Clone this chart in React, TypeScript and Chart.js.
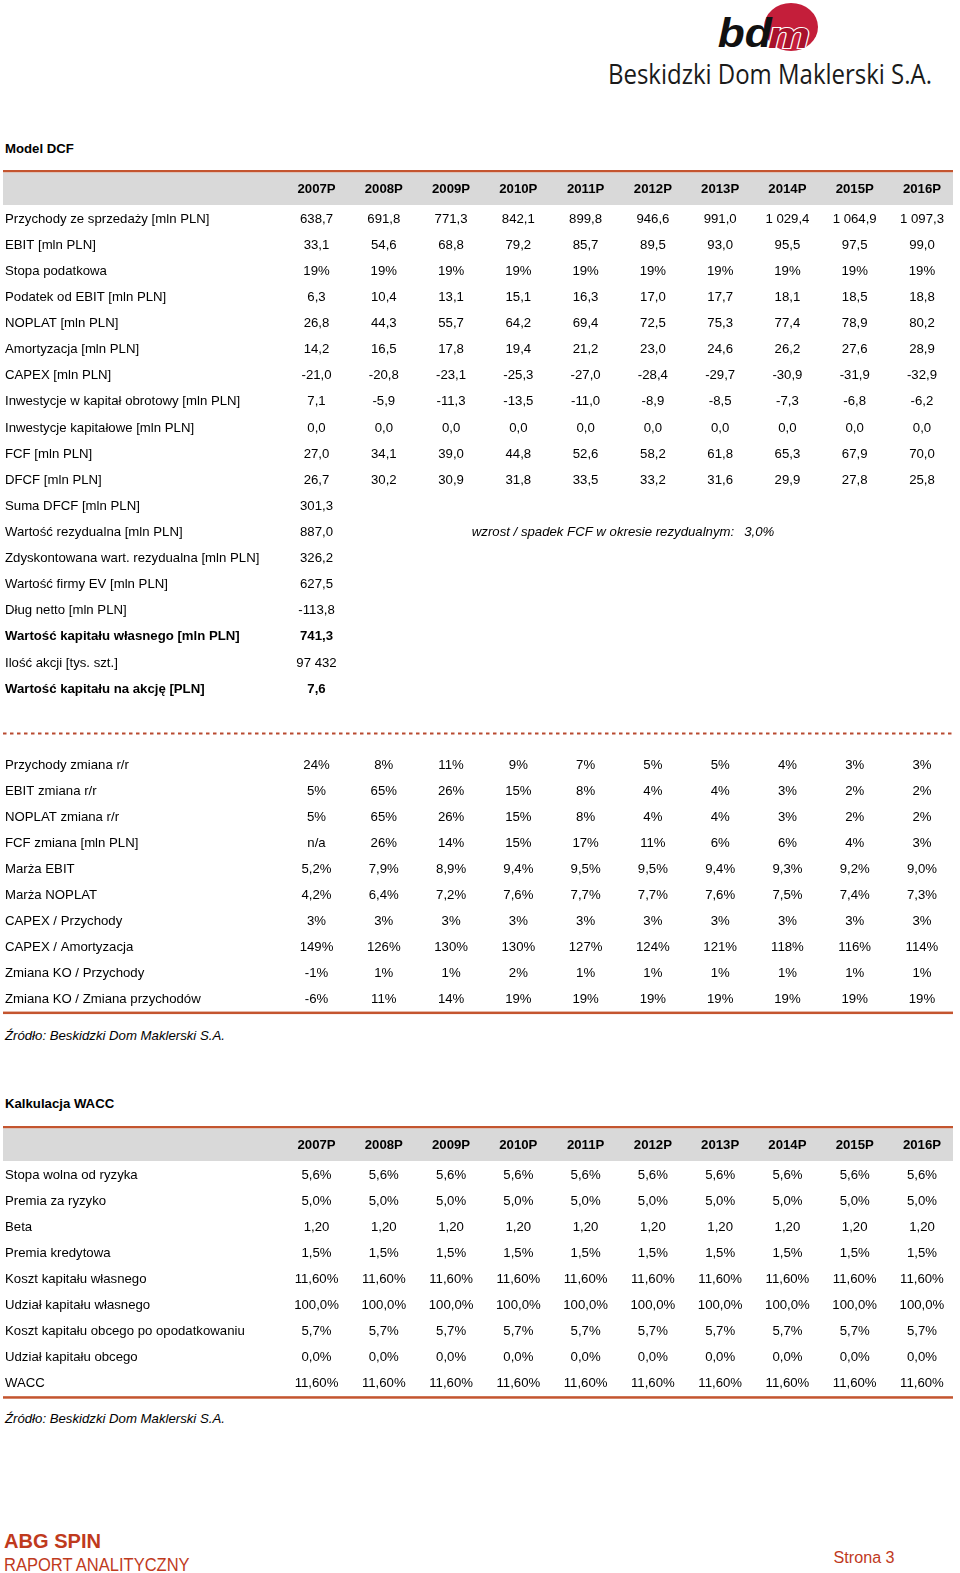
import React, { useEffect, useRef } from 'react';
import { Chart, registerables } from 'chart.js';

Chart.register(...registerables);

const FONT = "'Liberation Sans', Arial, Helvetica, sans-serif";
const FS = 13.2;
const RED = '#c4552f';
const GRAY = '#d9d9d9';
const FOOT_RED = '#bf3a1d';

// ---------- data ----------
const years = ['2007P', '2008P', '2009P', '2010P', '2011P', '2012P', '2013P', '2014P', '2015P', '2016P'];

type Cell = number | null;

// DCF model
const dcfLabels = [
  'Przychody ze sprzedaży [mln PLN]',
  'EBIT [mln PLN]',
  'Stopa podatkowa',
  'Podatek od EBIT [mln PLN]',
  'NOPLAT [mln PLN]',
  'Amortyzacja [mln PLN]',
  'CAPEX [mln PLN]',
  'Inwestycje w kapitał obrotowy [mln PLN]',
  'Inwestycje kapitałowe [mln PLN]',
  'FCF [mln PLN]',
  'DFCF [mln PLN]',
  'Suma DFCF [mln PLN]',
  'Wartość rezydualna [mln PLN]',
  'Zdyskontowana wart. rezydualna [mln PLN]',
  'Wartość firmy EV [mln PLN]',
  'Dług netto [mln PLN]',
  'Wartość kapitału własnego [mln PLN]',
  'Ilość akcji [tys. szt.]',
  'Wartość kapitału na akcję [PLN]',
];
const przychody: Cell[] = [638.7, 691.8, 771.3, 842.1, 899.8, 946.6, 991.0, 1029.4, 1064.9, 1097.3];
const ebit: Cell[] = [33.1, 54.6, 68.8, 79.2, 85.7, 89.5, 93.0, 95.5, 97.5, 99.0];
const stopaPodatkowa: Cell[] = [19, 19, 19, 19, 19, 19, 19, 19, 19, 19];
const podatekEbit: Cell[] = [6.3, 10.4, 13.1, 15.1, 16.3, 17.0, 17.7, 18.1, 18.5, 18.8];
const noplat: Cell[] = [26.8, 44.3, 55.7, 64.2, 69.4, 72.5, 75.3, 77.4, 78.9, 80.2];
const amortyzacja: Cell[] = [14.2, 16.5, 17.8, 19.4, 21.2, 23.0, 24.6, 26.2, 27.6, 28.9];
const capex: Cell[] = [-21.0, -20.8, -23.1, -25.3, -27.0, -28.4, -29.7, -30.9, -31.9, -32.9];
const invObrotowy: Cell[] = [7.1, -5.9, -11.3, -13.5, -11.0, -8.9, -8.5, -7.3, -6.8, -6.2];
const invKapitalowe: Cell[] = [0, 0, 0, 0, 0, 0, 0, 0, 0, 0];
const fcf: Cell[] = [27.0, 34.1, 39.0, 44.8, 52.6, 58.2, 61.8, 65.3, 67.9, 70.0];
const dfcf: Cell[] = [26.7, 30.2, 30.9, 31.8, 33.5, 33.2, 31.6, 29.9, 27.8, 25.8];
const sumaDfcf: Cell[] = [301.3];
const wartoscRezydualna: Cell[] = [887.0];
const zdyskontowana: Cell[] = [326.2];
const wartoscEv: Cell[] = [627.5];
const dlugNetto: Cell[] = [-113.8];
const kapitalWlasny: Cell[] = [741.3];
const iloscAkcji: Cell[] = [97432];
const naAkcje: Cell[] = [7.6];
const dcfRows = [przychody, ebit, stopaPodatkowa, podatekEbit, noplat, amortyzacja, capex, invObrotowy,
  invKapitalowe, fcf, dfcf, sumaDfcf, wartoscRezydualna, zdyskontowana, wartoscEv, dlugNetto,
  kapitalWlasny, iloscAkcji, naAkcje];
const dcfDecimals = [1, 1, 0, 1, 1, 1, 1, 1, 1, 1, 1, 1, 1, 1, 1, 1, 1, 0, 1];
const dcfPercent = [false, false, true, false, false, false, false, false, false, false, false, false, false, false, false, false, false, false, false];
const dcfBold = [16, 18];
const growthLabel = 'wzrost / spadek FCF w okresie rezydualnym:';
const growthRate = 3.0;

// ratios
const ratioLabels = [
  'Przychody zmiana r/r',
  'EBIT zmiana r/r',
  'NOPLAT zmiana r/r',
  'FCF zmiana [mln PLN]',
  'Marża EBIT',
  'Marża NOPLAT',
  'CAPEX / Przychody',
  'CAPEX / Amortyzacja',
  'Zmiana KO / Przychody',
  'Zmiana KO / Zmiana przychodów',
];
const przychodyZmiana: Cell[] = [24, 8, 11, 9, 7, 5, 5, 4, 3, 3];
const ebitZmiana: Cell[] = [5, 65, 26, 15, 8, 4, 4, 3, 2, 2];
const noplatZmiana: Cell[] = [5, 65, 26, 15, 8, 4, 4, 3, 2, 2];
const fcfZmiana: Cell[] = [null, 26, 14, 15, 17, 11, 6, 6, 4, 3];
const marzaEbit: Cell[] = [5.2, 7.9, 8.9, 9.4, 9.5, 9.5, 9.4, 9.3, 9.2, 9.0];
const marzaNoplat: Cell[] = [4.2, 6.4, 7.2, 7.6, 7.7, 7.7, 7.6, 7.5, 7.4, 7.3];
const capexPrzychody: Cell[] = [3, 3, 3, 3, 3, 3, 3, 3, 3, 3];
const capexAmortyzacja: Cell[] = [149, 126, 130, 130, 127, 124, 121, 118, 116, 114];
const koPrzychody: Cell[] = [-1, 1, 1, 2, 1, 1, 1, 1, 1, 1];
const koZmianaPrzychodow: Cell[] = [-6, 11, 14, 19, 19, 19, 19, 19, 19, 19];
const ratioRows = [przychodyZmiana, ebitZmiana, noplatZmiana, fcfZmiana, marzaEbit, marzaNoplat,
  capexPrzychody, capexAmortyzacja, koPrzychody, koZmianaPrzychodow];
const ratioDecimals = [0, 0, 0, 0, 1, 1, 0, 0, 0, 0];
const ratioPercent = [true, true, true, true, true, true, true, true, true, true];

// WACC
const waccLabels = [
  'Stopa wolna od ryzyka',
  'Premia za ryzyko',
  'Beta',
  'Premia kredytowa',
  'Koszt kapitału własnego',
  'Udział kapitału własnego',
  'Koszt kapitału obcego po opodatkowaniu',
  'Udział kapitału obcego',
  'WACC',
];
const stopaWolna: Cell[] = [5.6, 5.6, 5.6, 5.6, 5.6, 5.6, 5.6, 5.6, 5.6, 5.6];
const premiaRyzyko: Cell[] = [5.0, 5.0, 5.0, 5.0, 5.0, 5.0, 5.0, 5.0, 5.0, 5.0];
const beta: Cell[] = [1.2, 1.2, 1.2, 1.2, 1.2, 1.2, 1.2, 1.2, 1.2, 1.2];
const premiaKredytowa: Cell[] = [1.5, 1.5, 1.5, 1.5, 1.5, 1.5, 1.5, 1.5, 1.5, 1.5];
const kosztWlasny: Cell[] = [11.6, 11.6, 11.6, 11.6, 11.6, 11.6, 11.6, 11.6, 11.6, 11.6];
const udzialWlasny: Cell[] = [100, 100, 100, 100, 100, 100, 100, 100, 100, 100];
const kosztObcy: Cell[] = [5.7, 5.7, 5.7, 5.7, 5.7, 5.7, 5.7, 5.7, 5.7, 5.7];
const udzialObcy: Cell[] = [0, 0, 0, 0, 0, 0, 0, 0, 0, 0];
const wacc: Cell[] = [11.6, 11.6, 11.6, 11.6, 11.6, 11.6, 11.6, 11.6, 11.6, 11.6];
const waccRows = [stopaWolna, premiaRyzyko, beta, premiaKredytowa, kosztWlasny, udzialWlasny, kosztObcy, udzialObcy, wacc];
const waccDecimals = [1, 1, 2, 1, 2, 1, 1, 1, 2];
const waccPercent = [true, true, false, true, true, true, true, true, true];

const sourceText = 'Źródło: Beskidzki Dom Maklerski S.A.';

// ---------- helpers ----------
function fmt(v: Cell | undefined, dec: number, pct: boolean): string {
  if (v === undefined) return '';
  if (v === null) return 'n/a';
  const neg = v < 0;
  const s = Math.abs(v).toFixed(dec);
  const parts = s.split('.');
  const i = parts[0].replace(/\B(?=(\d{3})+(?!\d))/g, ' ');
  return (neg ? '-' : '') + i + (parts[1] ? ',' + parts[1] : '') + (pct ? '%' : '');
}

type TableProps = {
  top: number;
  height: number;
  padTop: number;
  padBottom: number;
  labels: string[];
  rows: Cell[][];
  decimals: number[];
  percent: boolean[];
  bold?: number[];
  header: boolean;
  dashedTop?: boolean;
  bottomRule?: boolean;
  extra?: (chart: any) => void;
};

function TableChart(p: TableProps) {
  const ref = useRef<HTMLCanvasElement | null>(null);
  useEffect(() => {
    const canvas = ref.current;
    if (!canvas) return;
    const bold = new Set(p.bold ?? []);
    const tablePlugin = {
      id: 'tableCells',
      beforeDraw(chart: any) {
        const { ctx, chartArea } = chart;
        ctx.save();
        if (p.header) {
          ctx.fillStyle = RED;
          ctx.fillRect(3, chartArea.top - 36, 950, 2.5);
          ctx.fillStyle = GRAY;
          ctx.fillRect(3, chartArea.top - 33.5, 950, 32.5);
        }
        if (p.dashedTop) {
          ctx.strokeStyle = '#b84a30';
          ctx.lineWidth = 2;
          ctx.setLineDash([3.5, 3.5]);
          ctx.beginPath();
          ctx.moveTo(3, chartArea.top - 19);
          ctx.lineTo(953, chartArea.top - 19);
          ctx.stroke();
          ctx.setLineDash([]);
        }
        if (p.bottomRule) {
          ctx.fillStyle = RED;
          ctx.fillRect(3, chartArea.bottom - 0.5, 950, 2.5);
        }
        ctx.restore();
      },
      afterDraw(chart: any) {
        const { ctx, chartArea } = chart;
        const xs = chart.scales.x;
        const ys = chart.scales.y;
        ctx.save();
        ctx.textAlign = 'center';
        ctx.textBaseline = 'middle';
        ctx.fillStyle = '#000';
        if (p.header) {
          ctx.font = `bold ${FS}px ${FONT}`;
          years.forEach((yr, i) => ctx.fillText(yr, xs.getPixelForValue(i), chartArea.top - 16.5));
        }
        p.rows.forEach((vals, r) => {
          ctx.font = `${bold.has(r) ? 'bold ' : ''}${FS}px ${FONT}`;
          const py = ys.getPixelForValue(r);
          vals.forEach((v, c) => {
            ctx.fillText(fmt(v, p.decimals[r], p.percent[r]), xs.getPixelForValue(c), py);
          });
        });
        if (p.extra) p.extra(chart);
        ctx.restore();
      },
    };
    const chart = new Chart(canvas, {
      type: 'line',
      data: { labels: years, datasets: [] },
      options: {
        responsive: false,
        animation: false,
        devicePixelRatio: 1,
        layout: { padding: { left: 5, right: 4.4, top: p.padTop, bottom: p.padBottom } },
        plugins: { legend: { display: false }, tooltip: { enabled: false }, title: { display: false } },
        scales: {
          x: {
            type: 'category',
            labels: years,
            offset: true,
            display: false,
          },
          y: {
            type: 'category',
            labels: p.labels,
            offset: true,
            position: 'left',
            grid: { display: false, drawTicks: false },
            border: { display: false },
            ticks: {
              autoSkip: false,
              crossAlign: 'far',
              padding: 0,
              color: '#000',
              font: (ctx: any) => ({ family: FONT, size: FS, weight: bold.has(ctx.index) ? 'bold' : 'normal' }),
            },
            afterFit: (s: any) => {
              s.width = 277.9;
            },
          },
        },
      } as any,
      plugins: [tablePlugin],
    });
    return () => chart.destroy();
  }, []);
  return (
    <canvas
      ref={ref}
      width={960}
      height={p.height}
      style={{ position: 'absolute', left: 0, top: p.top, width: 960, height: p.height }}
    />
  );
}

const textStyle = (top: number, extra: React.CSSProperties): React.CSSProperties => ({
  position: 'absolute',
  left: 5,
  top,
  fontFamily: FONT,
  fontSize: FS,
  lineHeight: '16px',
  color: '#000',
  whiteSpace: 'nowrap',
  ...extra,
});

export default function App() {
  const growthExtra = (chart: any) => {
    const { ctx } = chart;
    const xs = chart.scales.x;
    const ys = chart.scales.y;
    const r = dcfLabels.indexOf('Wartość rezydualna [mln PLN]');
    const py = ys.getPixelForValue(r);
    const anchor = xs.getPixelForValue(6);
    ctx.font = `italic ${FS}px ${FONT}`;
    ctx.textAlign = 'right';
    ctx.fillText(growthLabel, anchor + 14, py);
    ctx.textAlign = 'left';
    ctx.fillText(fmt(growthRate, 1, true), anchor + 24, py);
  };

  return (
    <div style={{ position: 'absolute', left: 0, top: 0, width: 960, height: 1573, background: '#fff', overflow: 'hidden' }}>
      <svg width={370} height={100} style={{ position: 'absolute', left: 590, top: 0 }}>
        <ellipse cx={201} cy={27} rx={27} ry={24} fill="#c41e3a" />
        <text x={127.7} y={46.7} fontFamily={FONT} fontWeight="bold" fontStyle="italic" fontSize={41}
          textLength={54} lengthAdjust="spacingAndGlyphs" fill="#111">bd</text>
        <text x={178} y={48} fontFamily={FONT} fontWeight="bold" fontStyle="italic" fontSize={36}
          textLength={42} lengthAdjust="spacingAndGlyphs" fill="#a8122c" stroke="#fff" strokeWidth={2}
          style={{ paintOrder: 'stroke' }}>m</text>
        <text x={18} y={84} fontFamily="'Open Sans', 'Liberation Sans', sans-serif" fontSize={26.5}
          textLength={324} lengthAdjust="spacingAndGlyphs" fill="#1a1a1a">Beskidzki Dom Maklerski S.A.</text>
      </svg>

      <div style={textStyle(141.2, { fontWeight: 'bold' })}>Model DCF</div>

      <TableChart top={160} height={550} padTop={46} padBottom={7.3}
        labels={dcfLabels} rows={dcfRows} decimals={dcfDecimals} percent={dcfPercent}
        bold={dcfBold} header={true} extra={growthExtra} />

      <TableChart top={720} height={300} padTop={32.4} padBottom={6.7}
        labels={ratioLabels} rows={ratioRows} decimals={ratioDecimals} percent={ratioPercent}
        header={false} dashedTop={true} bottomRule={true} />

      <div style={textStyle(1027.7, { fontStyle: 'italic' })}>{sourceText}</div>

      <div style={textStyle(1095.7, { fontWeight: 'bold' })}>Kalkulacja WACC</div>

      <TableChart top={1115} height={290} padTop={47} padBottom={8.3}
        labels={waccLabels} rows={waccRows} decimals={waccDecimals} percent={waccPercent}
        header={true} bottomRule={true} />

      <div style={textStyle(1410.7, { fontStyle: 'italic' })}>{sourceText}</div>

      <svg width={960} height={60} style={{ position: 'absolute', left: 0, top: 1513 }}>
        <text x={4} y={34.6} fontFamily={FONT} fontWeight="bold" fontSize={20} textLength={97}
          lengthAdjust="spacingAndGlyphs" fill={FOOT_RED}>ABG SPIN</text>
        <text x={4} y={58} fontFamily={FONT} fontSize={19} textLength={185.6}
          lengthAdjust="spacingAndGlyphs" fill={FOOT_RED}>RAPORT ANALITYCZNY</text>
        <text x={833.6} y={49.7} fontFamily={FONT} fontSize={16} textLength={61}
          lengthAdjust="spacingAndGlyphs" fill={FOOT_RED}>Strona 3</text>
      </svg>
    </div>
  );
}
